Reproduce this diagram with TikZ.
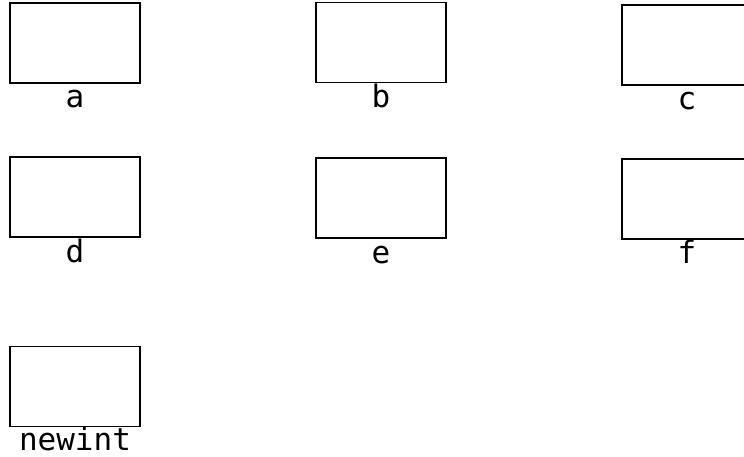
\documentclass[tikz,border=0pt]{standalone}
\usepackage{fontspec}
\setmonofont{DejaVu Sans Mono}
\begin{document}
\begin{tikzpicture}[x=1pt,y=-1pt,
  box/.style={draw=black,line width=1.8pt,minimum width=130pt,minimum height=80pt,inner sep=0pt,fill=white},
  lbl/.style={font=\fontsize{31}{31}\selectfont\ttfamily,anchor=base,inner sep=0pt}]
\useasboundingbox (0,0) rectangle (744,457);
\node[box] (a) at (75,43) {};
\node[box] (b) at (381,42.5) {};
\node[box] (c) at (687,45) {};
\node[box] (d) at (75,197) {};
\node[box] (e) at (381,198) {};
\node[box] (f) at (687,199) {};
\node[box] (newint) at (75,386.5) {};
\node[lbl] (la) at (75,108) {a};
\node[lbl] (lb) at (381,108) {b};
\node[lbl] (lc) at (687,110) {c};
\node[lbl] (ld) at (75,262) {d};
\node[lbl] (le) at (381,263) {e};
\node[lbl] (lf) at (687,263) {f};
\node[lbl] (lnewint) at (75,450) {newint};
\end{tikzpicture}
\end{document}
